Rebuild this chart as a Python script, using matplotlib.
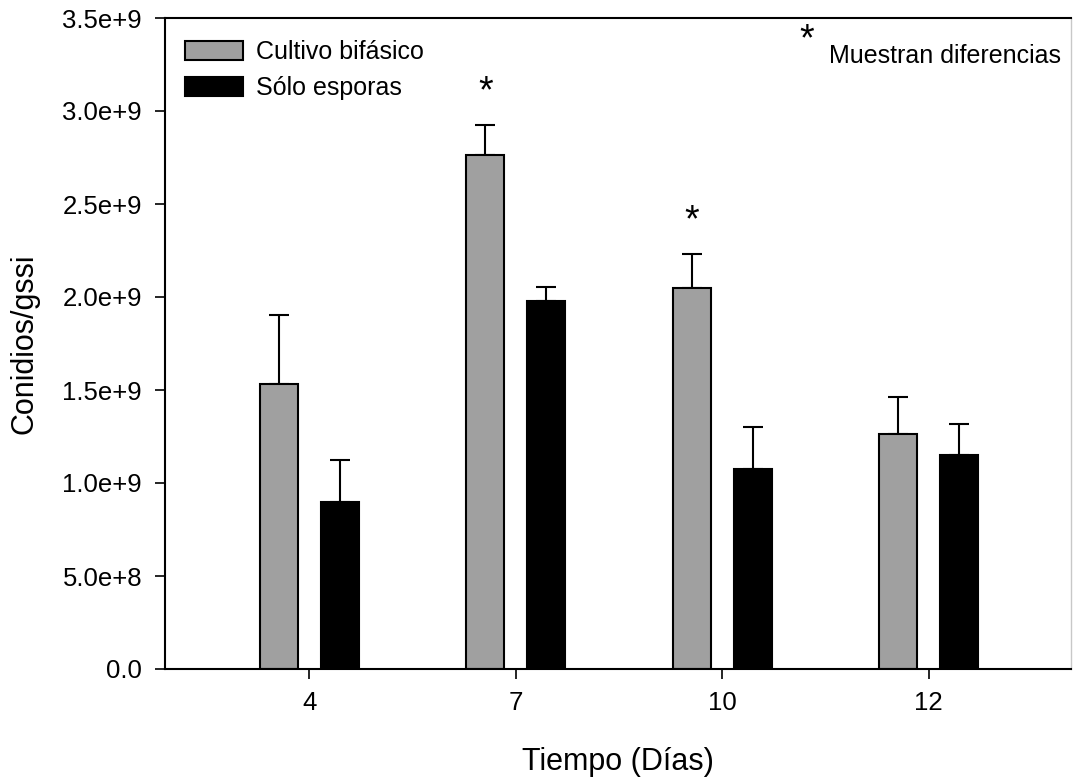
import matplotlib
matplotlib.use("Agg")
import matplotlib.pyplot as plt
import numpy as np

# data
dias = ["4", "7", "10", "12"]
bifasico = [1.532e9, 2.763e9, 2.048e9, 1.263e9]
bifasico_err = [0.371e9, 0.162e9, 0.183e9, 0.199e9]
esporas = [0.898e9, 1.978e9, 1.075e9, 1.150e9]
esporas_err = [0.226e9, 0.076e9, 0.225e9, 0.167e9]
significativo = [False, True, True, False]

ytick_vals = [0, 0.5e9, 1.0e9, 1.5e9, 2.0e9, 2.5e9, 3.0e9, 3.5e9]
ytick_labels = ["0.0", "5.0e+8", "1.0e+9", "1.5e+9", "2.0e+9", "2.5e+9", "3.0e+9", "3.5e+9"]

plt.rcParams['font.family'] = ['Liberation Sans', 'DejaVu Sans']

fig = plt.figure(figsize=(10.73, 7.78), dpi=100)
ax = fig.add_axes([165/1073, 1 - 669/778, (1071-165)/1073, (669-18)/778])

x = np.arange(len(dias))
w = 0.185
off = 0.148

ax.bar(x - off, bifasico, w, color="#a0a0a0", edgecolor="black", linewidth=1.5,
       label="Cultivo bifásico", zorder=2)
ax.bar(x + off, esporas, w, color="black", edgecolor="black", linewidth=1.5,
       label="Sólo esporas", zorder=2)

ax.errorbar(x - off, bifasico, yerr=[np.zeros(4), bifasico_err], fmt="none",
            ecolor="black", elinewidth=1.5, capsize=7, capthick=1.5, zorder=1)
ax.errorbar(x + off, esporas, yerr=[np.zeros(4), esporas_err], fmt="none",
            ecolor="black", elinewidth=1.5, capsize=7, capthick=1.5, zorder=1)

# asterisks over significant groups
for i in range(len(dias)):
    if significativo[i]:
        ax.text(x[i] - off, bifasico[i] + bifasico_err[i] + 0.08e9, "*",
                ha="center", va="bottom", fontsize=27)

ax.set_xlim(-0.70, 3.69)
ax.set_ylim(0, 3.5e9)
ax.set_xticks(x)
ax.set_xticklabels(dias)
ax.set_yticks(ytick_vals)
ax.set_yticklabels(ytick_labels)
ax.tick_params(direction="out", length=7, width=1.2, labelsize=18.5)
ax.tick_params(axis="y", pad=9.5)
ax.tick_params(axis="x", pad=9)
for s in ax.spines.values():
    s.set_linewidth(1.5)
ax.spines["right"].set_color("#c8c8c8")
ax.spines["right"].set_linewidth(1)

ax.set_xlabel("Tiempo (Días)", fontsize=22, labelpad=23)
ax.set_ylabel("Conidios/gssi", fontsize=22)
ax.yaxis.set_label_coords(-0.138, 0.5)

ax.legend(loc="upper left", bbox_to_anchor=(0.0, 0.997), frameon=False, fontsize=18,
          handlelength=2.3, handleheight=0.8, handletextpad=0.55, labelspacing=0.5,
          borderaxespad=0.5, borderpad=0.3)

ax.text(0.708, 0.993, "*", transform=ax.transAxes, fontsize=27, ha="center", va="top")
ax.text(0.733, 0.96, "Muestran diferencias", transform=ax.transAxes, fontsize=18,
        ha="left", va="top")

fig.savefig("out.png", dpi=100)
